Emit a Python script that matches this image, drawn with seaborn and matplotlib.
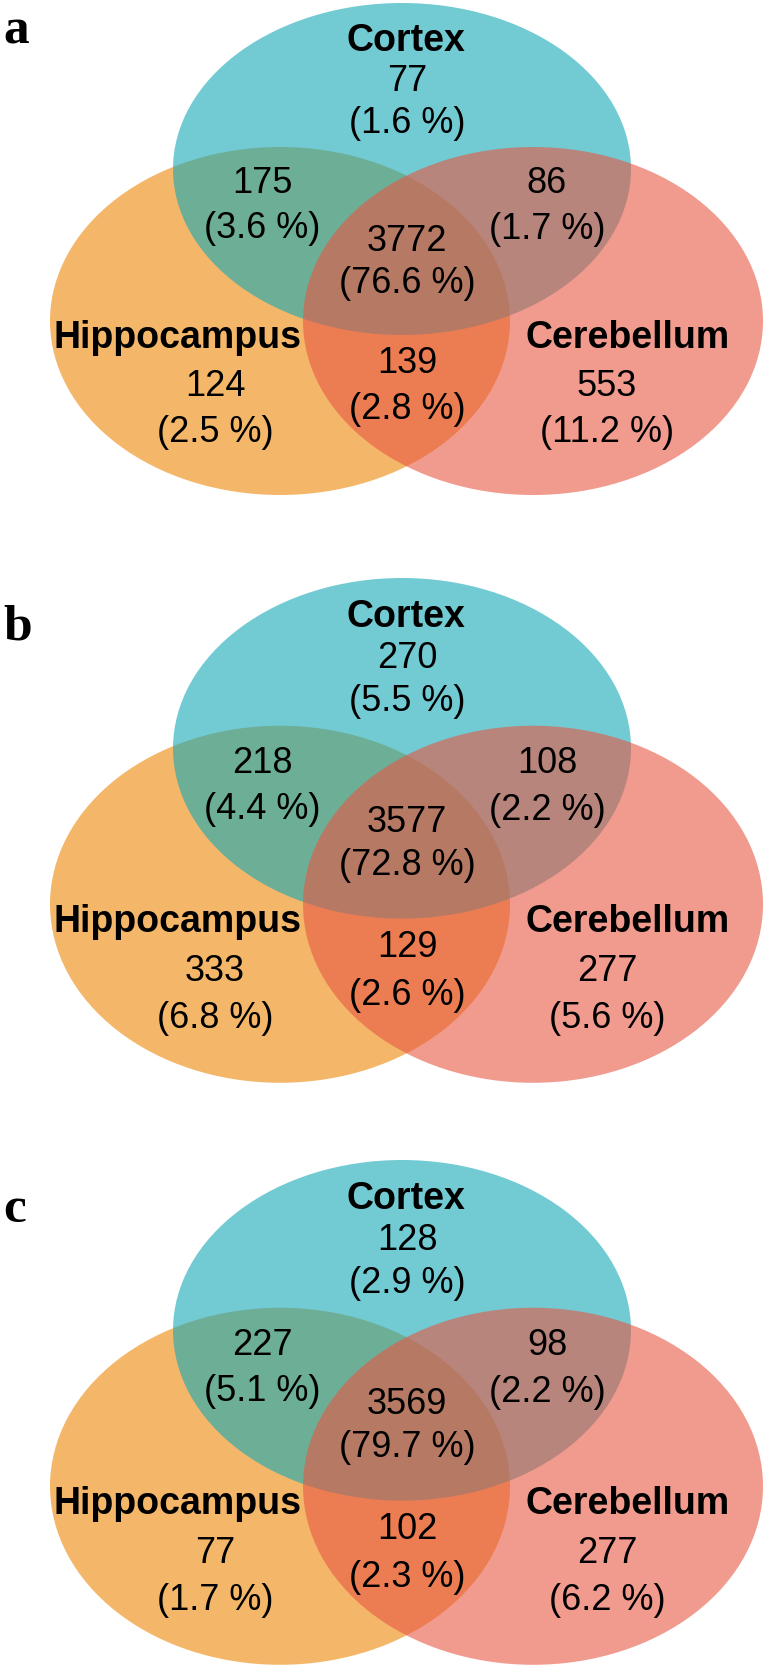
import matplotlib
matplotlib.use("Agg")
import matplotlib.pyplot as plt
from matplotlib.patches import Ellipse
import seaborn as sns

# Venn counts (and percent of total) per panel
panels = ["a", "b", "c"]
sets = ["Hippocampus", "Cortex", "Cerebellum"]

cortex_only = [77, 270, 128]
cortex_only_pct = [1.6, 5.5, 2.9]
hippo_only = [124, 333, 77]
hippo_only_pct = [2.5, 6.8, 1.7]
cereb_only = [553, 277, 277]
cereb_only_pct = [11.2, 5.6, 6.2]
cortex_hippo = [175, 218, 227]
cortex_hippo_pct = [3.6, 4.4, 5.1]
cortex_cereb = [86, 108, 98]
cortex_cereb_pct = [1.7, 2.2, 2.2]
hippo_cereb = [139, 129, 102]
hippo_cereb_pct = [2.8, 2.6, 2.3]
all_three = [3772, 3577, 3569]
all_three_pct = [76.6, 72.8, 79.7]

sns.set_theme(style="white")
plt.rcParams["font.family"] = ["Liberation Sans", "DejaVu Sans"]

colors = sns.color_palette(["#EE8707", "#14A8B6", "#E85743"])

W, H = 766, 1670
fig = plt.figure(figsize=(W / 100, H / 100), dpi=100)
ax = fig.add_axes([0, 0, 1, 1])
ax.set_xlim(0, W)
ax.set_ylim(H, 0)
ax.axis("off")

# each panel: top of the cortex ellipse (px) and vertical stretch
tops = [3, 578, 1160]
stretch = [1.0, 1.026, 1.026]
letter_base = [43, 640, 1222]

# ellipse geometry relative to panel top: (cx, cy, rx, ry)
shapes = {"Hippocampus": (280, 318, 230, 174),
          "Cortex": (402, 166, 229, 166),
          "Cerebellum": (533, 318, 230, 174)}

num_fs = 26
lab_fs = 27


def num(y0, s, x, yc, yp, count, pct):
    ax.text(x, y0 + s * yc + 13, f"{count}", ha="center", va="baseline",
            fontsize=num_fs, color="black")
    ax.text(x, y0 + s * yp + 10, f"({pct} %)", ha="center", va="baseline",
            fontsize=num_fs, color="black")


def label(y0, s, x, y, txt):
    ax.text(x, y0 + s * y + 13, txt, ha="center", va="baseline",
            fontsize=lab_fs, fontweight="bold", color="black")


for i, p in enumerate(panels):
    y0, s = tops[i], stretch[i]
    for name, col in zip(sets, colors):
        cx, cy, rx, ry = shapes[name]
        ax.add_patch(Ellipse((cx, y0 + s * cy), 2 * rx, 2 * ry * s,
                             facecolor=col, alpha=0.6, edgecolor="none"))

    ax.text(3, letter_base[i], p, ha="left", va="baseline", fontsize=37,
            fontweight="bold", color="black",
            family=["Liberation Serif", "DejaVu Serif"])

    label(y0, s, 406, 35, "Cortex")
    num(y0, s, 407, 75, 120, cortex_only[i], cortex_only_pct[i])
    num(y0, s, 262, 177, 225, cortex_hippo[i], cortex_hippo_pct[i])
    num(y0, s, 547, 177, 226, cortex_cereb[i], cortex_cereb_pct[i])
    num(y0, s, 407, 235, 280, all_three[i], all_three_pct[i])
    label(y0, s, 177, 332, "Hippocampus")
    label(y0, s, 628, 332, "Cerebellum")
    num(y0, s, 407, 357, 406, hippo_cereb[i], hippo_cereb_pct[i])
    num(y0, s, 215, 380, 429, hippo_only[i], hippo_only_pct[i])
    num(y0, s, 607, 380, 429, cereb_only[i], cereb_only_pct[i])

fig.savefig("out.png", dpi=100, facecolor="white")
